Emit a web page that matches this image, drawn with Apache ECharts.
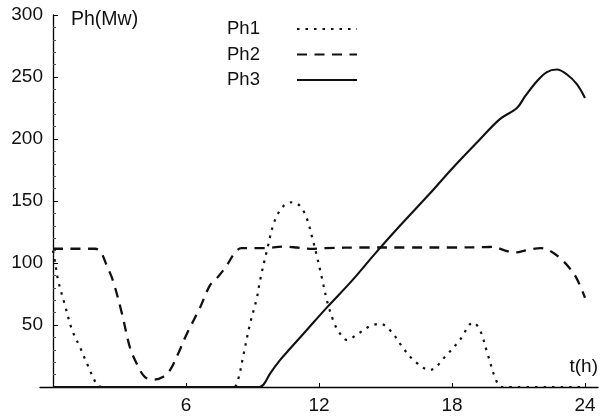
<!DOCTYPE html>
<html>
<head>
<meta charset="utf-8">
<script src="https://cdn.jsdelivr.net/npm/echarts@6/dist/echarts.min.js"></script>
<style>html,body{margin:0;padding:0;background:#fff}#c{width:606px;height:417px}</style>
</head>
<body>
<div id="c"></div>
<script>
const seriesNames = ['Ph1', 'Ph2', 'Ph3'];

const ph1T = [0, 0.1, 0.23, 0.54, 0.86, 1.22, 1.53, 1.98, 2.2, 8.15, 8.35, 8.57, 8.89, 9.2, 9.34, 9.65, 10.0, 10.4, 10.78, 11.14, 11.45, 11.7, 11.9, 12.13, 12.4, 12.7, 12.95, 13.25, 13.85, 14.3, 14.75, 15.3, 15.65, 16.25, 17.0, 17.75, 18.36, 18.95, 19.26, 19.6, 20.0, 20.25, 24];
const ph1V = [110, 100, 86, 66, 46, 32, 19, 2, 0, 0, 6, 24, 51, 72, 86, 110, 134, 146, 149, 146, 136, 120, 106, 88, 67, 51, 43, 38, 44, 49, 51, 44, 35, 22, 13.7, 25.7, 38, 52, 46, 27, 5, 0, 0];

const ph2T = [0, 1.9, 2.15, 2.4, 2.7, 3.1, 3.47, 3.8, 4.15, 4.56, 4.95, 5.28, 5.65, 6.04, 6.63, 7.08, 7.4, 7.8, 8.2, 8.5, 9.5, 10.4, 11.0, 11.6, 12.3, 14, 16, 18, 19.5, 19.85, 20.4, 20.85, 21.4, 22.0, 22.4, 22.87, 23.3, 23.64, 24];
const ph2V = [111.5, 111.5, 109, 99, 86, 60, 32, 18, 8, 6, 8, 13.6, 27, 43, 64, 82, 88, 97, 108, 112, 112, 113.2, 112.5, 111.4, 112, 112.5, 112.5, 112.5, 112.8, 113, 110, 108.5, 110.5, 112, 110, 104, 96, 87, 72];

const ph3T = [0, 9.3, 9.5, 9.8, 10.24, 10.7, 11.45, 12.35, 13.5, 14.5, 15.65, 17.0, 18.0, 19.17, 20.16, 20.93, 21.3, 21.83, 22.28, 22.73, 23.19, 23.64, 24];
const ph3V = [0, 0, 2, 11, 21.7, 31, 46, 64, 86, 107, 130, 156, 176, 198, 216, 225, 234.5, 246.6, 254, 256, 252, 244, 233];

const pairs = (t, v) => t.map((x, i) => [x, v[i]]);
const FONT = 'Liberation Sans';
const chart = echarts.init(document.getElementById('c'), null, {renderer: 'canvas'});

chart.setOption({
  animation: false,
  backgroundColor: '#fff',
  textStyle: {fontFamily: FONT},
  grid: [
    {left: 53, right: 21, top: 15, bottom: 30, containLabel: false},
    {left: 40, right: 8, top: 15, bottom: 30, containLabel: false}
  ],
  legend: {
    orient: 'vertical', left: 222, top: 14.5, align: 'right',
    itemWidth: 60, itemHeight: 20, itemGap: 6.5,
    itemStyle: {color: 'rgba(0,0,0,0)', borderWidth: 0, opacity: 0},
    formatter: '{n|{name}}',
    textStyle: {fontFamily: FONT, fontSize: 18.5, color: '#111',
      rich: {n: {width: 65, fontFamily: FONT, fontSize: 18.5, color: '#111', lineHeight: 20, align: 'left'}}},
    data: seriesNames
  },
  xAxis: [
    {
      gridIndex: 0, type: 'value', min: 0, max: 24, interval: 6,
      axisLine: {show: false},
      axisTick: {show: true, inside: true, length: 4, lineStyle: {color: '#000', width: 1}},
      axisLabel: {showMinLabel: false, margin: 9, fontFamily: FONT, fontSize: 19, color: '#111'},
      splitLine: {show: false}
    },
    {
      gridIndex: 1, type: 'value', min: 0, max: 1,
      name: 't(h)', nameLocation: 'end', nameGap: 0,
      nameTextStyle: {fontFamily: FONT, fontSize: 19, color: '#111', align: 'right', verticalAlign: 'bottom', padding: [0, 0, 11, 0]},
      axisLine: {show: true, onZero: false, lineStyle: {color: '#000', width: 1.3}},
      axisTick: {show: false}, axisLabel: {show: false}, splitLine: {show: false}
    }
  ],
  yAxis: [
    {
      gridIndex: 0, type: 'value', min: 0, max: 300, interval: 50,
      name: 'Ph(Mw)', nameLocation: 'end', nameGap: -5,
      nameTextStyle: {fontFamily: FONT, fontSize: 19.5, color: '#111', align: 'left', verticalAlign: 'middle', padding: [0, 0, 0, 18]},
      axisLine: {show: true, onZero: false, lineStyle: {color: '#000', width: 1.3}},
      axisTick: {show: true, inside: true, length: 5, lineStyle: {color: '#000', width: 1}},
      minorTick: {show: true, splitNumber: 5, length: 3, lineStyle: {color: '#555', width: 1}},
      axisLabel: {showMinLabel: false, margin: 10, fontFamily: FONT, fontSize: 19, color: '#111'},
      splitLine: {show: false}
    },
    {
      gridIndex: 1, type: 'value', min: 0, max: 1, show: false
    }
  ],
  series: [
    {name: seriesNames[0], type: 'line', data: pairs(ph1T, ph1V), symbol: 'none', smooth: 0.35,
     lineStyle: {color: '#111', width: 2.2, type: [2.5, 6], cap: 'butt'}, itemStyle: {color: '#111'}, z: 3},
    {name: seriesNames[1], type: 'line', data: pairs(ph2T, ph2V), symbol: 'none', smooth: 0.35,
     lineStyle: {color: '#111', width: 2.3, type: [10, 7.5]}, itemStyle: {color: '#111'}, z: 3},
    {name: seriesNames[2], type: 'line', data: pairs(ph3T, ph3V), symbol: 'none', smooth: 0.35,
     lineStyle: {color: '#111', width: 2.1, type: 'solid'}, itemStyle: {color: '#111'}, z: 3}
  ]
});
</script>
</body>
</html>
